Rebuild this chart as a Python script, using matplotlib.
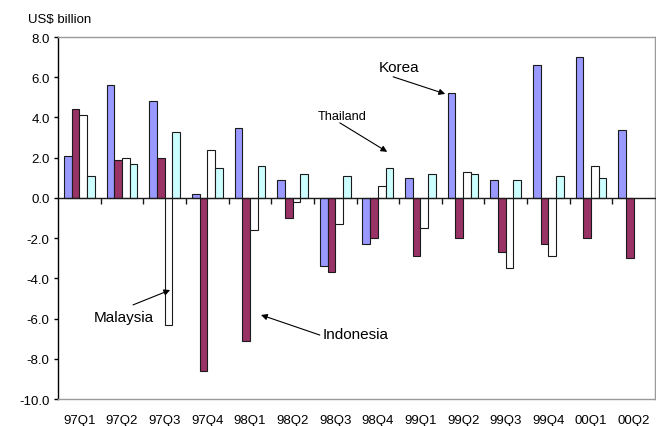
"""Quarterly capital flows for four Asian economies, grouped bar chart."""

import matplotlib
matplotlib.use("Agg")
import matplotlib.pyplot as plt
import numpy as np

plt.rcParams["font.family"] = ["Liberation Sans", "DejaVu Sans"]

# quarters on the x axis
quarters = ["97Q1", "97Q2", "97Q3", "97Q4", "98Q1", "98Q2", "98Q3",
            "98Q4", "99Q1", "99Q2", "99Q3", "99Q4", "00Q1", "00Q2"]

# US$ billion per quarter
korea = [2.1, 5.6, 4.8, 0.2, 3.5, 0.9, -3.4, -2.3, 1.0, 5.2, 0.9, 6.6, 7.0, 3.4]
indonesia = [4.4, 1.9, 2.0, -8.6, -7.1, -1.0, -3.7, -2.0, -2.9, -2.0, -2.7, -2.3, -2.0, -3.0]
malaysia = [4.1, 2.0, -6.3, 2.4, -1.6, -0.2, -1.3, 0.6, -1.5, 1.3, -3.5, -2.9, 1.6, np.nan]
thailand = [1.1, 1.7, 3.3, 1.5, 1.6, 1.2, 1.1, 1.5, 1.2, 1.2, 0.9, 1.1, 1.0, np.nan]

series = [
    ("Korea", korea, "#9999FF"),
    ("Indonesia", indonesia, "#993366"),
    ("Malaysia", malaysia, "#FFFFFF"),
    ("Thailand", thailand, "#CCFFFF"),
]

fig = plt.figure(figsize=(6.56, 4.27), dpi=100)
ax = fig.add_axes([0.0884, 0.0632, 0.9101, 0.8478])

x = np.arange(len(quarters))
width = 0.18
for i, (name, vals, colour) in enumerate(series):
    ax.bar(x + (i - 1.5) * width, vals, width, color=colour,
           edgecolor="#1a1a1a", linewidth=0.8, label=name, zorder=2)

ax.set_xlim(-0.5, len(quarters) - 0.5)
ax.set_ylim(-10, 8)
ax.set_yticks(np.arange(-10, 8.1, 2))
ax.set_yticklabels([f"{v:.1f}" for v in np.arange(-10, 8.1, 2)])
ax.set_xticks(x)
ax.set_xticklabels(quarters)
ax.tick_params(axis="x", length=0, pad=11, labelsize=9.5)
ax.tick_params(axis="y", direction="out", length=3, width=1, pad=3, labelsize=9.5)

# frame: black value axis, grey elsewhere
ax.spines["left"].set_color("black")
ax.spines["left"].set_linewidth(1)
for side in ["top", "right", "bottom"]:
    ax.spines[side].set_color("#999999")
    ax.spines[side].set_linewidth(1)

# category axis crossing at zero with small ticks between quarters
zero_axis = ax.secondary_xaxis(10 / 18)
zero_axis.set_zorder(3)
for side in ["top", "bottom"]:
    zero_axis.spines[side].set_color("#1a1a1a")
    zero_axis.spines[side].set_linewidth(1)
zero_axis.set_xticks(np.arange(0.5, len(quarters) - 0.5, 1))
zero_axis.set_xticklabels([])
zero_axis.tick_params(direction="in", length=4, width=1, color="#1a1a1a")

fig.text(28 / 656, 1 - 20 / 427, "US$ billion", ha="left", va="center", fontsize=9.5)

arrow = dict(arrowstyle="-|>", color="black", lw=0.8, mutation_scale=9,
             shrinkA=0, shrinkB=0)
ax.annotate("", xy=(8.58, 5.17), xytext=(7.36, 6.02), arrowprops=arrow)
ax.text(7.5, 6.52, "Korea", ha="center", va="center", fontsize=11)
ax.annotate("", xy=(7.22, 2.29), xytext=(6.11, 3.73), arrowprops=arrow)
ax.text(6.16, 4.08, "Thailand", ha="center", va="center", fontsize=9.2)
ax.annotate("", xy=(2.13, -4.58), xytext=(1.26, -5.32), arrowprops=arrow)
ax.text(1.05, -5.92, "Malaysia", ha="center", va="center", fontsize=11)
ax.annotate("", xy=(4.26, -5.82), xytext=(5.64, -6.82), arrowprops=arrow)
ax.text(5.7, -6.77, "Indonesia", ha="left", va="center", fontsize=11)

fig.savefig("out.png", dpi=100)
